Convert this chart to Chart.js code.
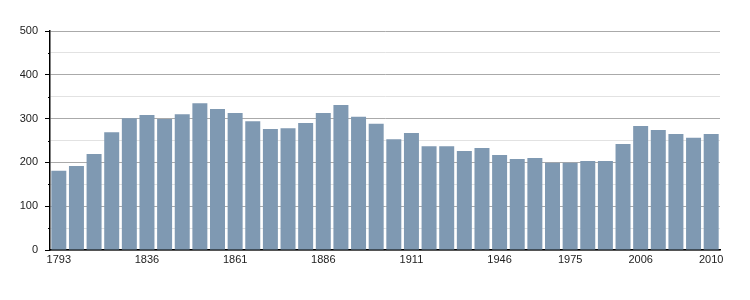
<!DOCTYPE html>
<html><head><meta charset="utf-8">
<script src="https://cdn.jsdelivr.net/npm/chart.js@4"></script>
<style>html,body{margin:0;padding:0;background:#fff;overflow:hidden}</style>
</head><body><canvas id="c" width="750" height="300"></canvas>
<script>
const years = ["1793","1800","1806","1821","1831","1836","1841","1846","1851","1856","1861","1866","1872","1876","1881","1886","1891","1896","1901","1906","1911","1921","1926","1931","1936","1946","1954","1962","1968","1975","1982","1990","1999","2006","2007","2008","2009","2010"];
const population = [181,192,219,269,301,308,299,310,335,322,313,294,276,278,290,313,331,304,288,253,267,237,237,226,233,217,208,210,199,199,203,203,242,283,274,265,256,265];
const shownYearLabels = ["1793","1836","1861","1886","1911","1946","1975","2006","2010"];
const yMax = 500;

const minorTicks = {
  id: 'minorTicks',
  afterDraw(chart) {
    const y = chart.scales.y, ctx = chart.ctx;
    ctx.save();
    ctx.strokeStyle = '#000'; ctx.lineWidth = 1;
    y.ticks.forEach(t => {
      if (t.value % 100 !== 0) {
        const py = Math.round(y.getPixelForValue(t.value)) + 0.5;
        ctx.beginPath(); ctx.moveTo(y.right - 2, py); ctx.lineTo(y.right, py); ctx.stroke();
      }
    });
    ctx.restore();
  }
};

new Chart(document.getElementById('c'), {
  type: 'bar',
  data: { labels: years, datasets: [{ data: population, backgroundColor: '#7f99b2', categoryPercentage: 1, barPercentage: 0.85 }] },
  plugins: [minorTicks],
  options: {
    responsive: false, maintainAspectRatio: false, animation: false,
    devicePixelRatio: 1,
    layout: { padding: { left: 0, right: 30, top: 31, bottom: 30 } },
    plugins: { legend: { display: false }, tooltip: { enabled: false } },
    scales: {
      x: {
        grid: { display: false, drawTicks: false },
        border: { color: '#000', width: 1.5 },
        ticks: {
          autoSkip: false, maxRotation: 0, padding: 3, color: '#222',
          font: { family: 'Liberation Sans', size: 11 },
          callback: function(v, i) { const l = years[i]; return shownYearLabels.includes(l) ? l : ''; }
        },
        afterFit: s => { s.height = 20; }
      },
      y: {
        min: 0, max: yMax,
        border: { color: '#000', width: 1.5 },
        grid: {
          color: c => (c.tick && c.tick.value % 100 === 0) ? '#aaaaaa' : '#e2e2e2',
          tickColor: c => (c.tick && c.tick.value % 100 === 0) ? '#000' : 'rgba(0,0,0,0)',
          tickLength: 5, lineWidth: 1
        },
        ticks: {
          stepSize: 50, padding: 7, color: '#222',
          font: { family: 'Liberation Sans', size: 11 },
          callback: v => v % 100 === 0 ? String(v) : ''
        },
        afterFit: s => { s.width = 50; }
      }
    }
  }
});
</script></body></html>
